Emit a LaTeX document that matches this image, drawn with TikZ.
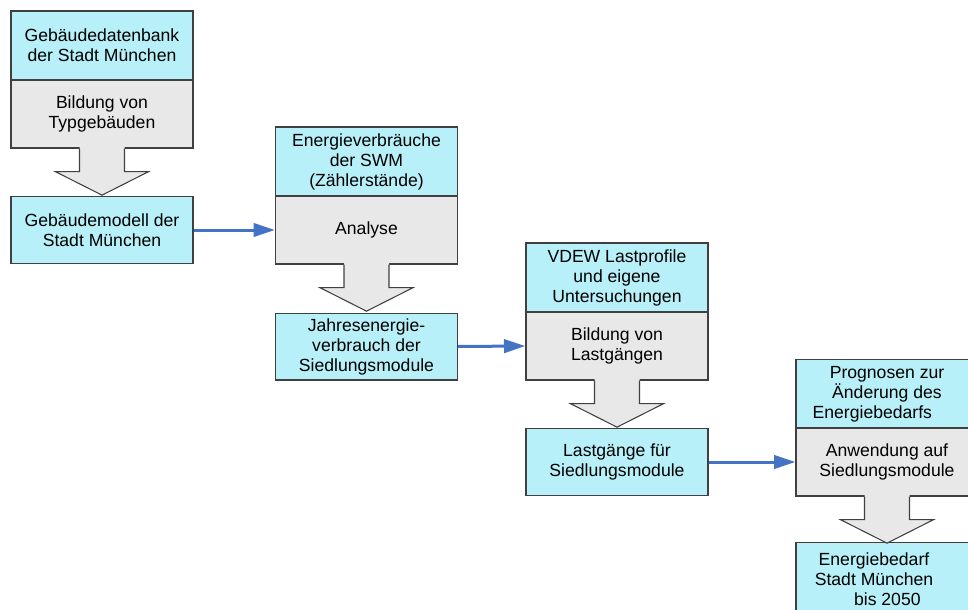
\documentclass[tikz,border=0pt]{standalone}
\usepackage{fontspec}
\setmainfont{Liberation Sans}
\usetikzlibrary{arrows.meta,calc}
\definecolor{boxcyan}{RGB}{183,240,248}
\definecolor{boxgray}{RGB}{232,232,232}
\definecolor{edgecol}{RGB}{64,64,64}
\definecolor{flowcol}{RGB}{68,114,196}
\begin{document}
\begin{tikzpicture}[x=0.75pt,y=-0.75pt,
  box/.style={draw=edgecol,line width=1pt,minimum width=136.5pt,inner sep=0pt,align=center,font=\fontsize{13.2}{15}\selectfont},
  srcbox/.style={box,fill=boxcyan,minimum height=51.75pt},
  procbox/.style={box,fill=boxgray,minimum height=51pt},
  resbox/.style={box,fill=boxcyan,minimum height=50pt},
  plain/.style={inner sep=0pt,align=center,font=\fontsize{13.2}{15}\selectfont},
  flowarrow/.style={draw=flowcol,line width=2.25pt,-{Triangle[length=16pt,width=10pt]}},
  blockedge/.style={draw=edgecol,line width=0.8pt}]
\path[use as bounding box] (0,0) rectangle (968,610);
\clip (0,0) rectangle (968,610);
% column 1
\node[srcbox]  (s1) at (102,45.5) {Gebäudedatenbank\\der Stadt München};
\node[procbox] (p1) at (102,114) {Bildung von\\Typgebäuden};
\node[resbox]  (r1) at (102,230) {Gebäudemodell der\\Stadt München};
% column 2
\node[srcbox]  (s2) at (366.5,161.5) {Energieverbräuche\\der SWM\\(Zählerstände)};
\node[procbox] (p2) at (366.5,230) {Analyse};
\node[resbox]  (r2) at (366.5,346.5) {Jahresenergie-\\verbrauch der\\Siedlungsmodule};
% column 3
\node[srcbox]  (s3) at (617,277.5) {VDEW Lastprofile\\und eigene\\Untersuchungen};
\node[procbox] (p3) at (617,346) {Bildung von\\Lastgängen};
\node[resbox]  (r3) at (617,462) {Lastgänge für\\Siedlungsmodule};
% column 4
\node[srcbox]  (s4) at (887,394) {Prognosen zur\\Änderung des\\Energiebedarfs\hspace*{22pt}};
\node[procbox] (p4) at (887,462) {Anwendung auf\\Siedlungsmodule};
\node[resbox,minimum height=51.75pt] (r4) at (887,577) {};
\node[plain]   (t4) at (874,579.5) {Energiebedarf\\Stadt München\\\hspace*{20pt}bis 2050};
% block arrows
\foreach \p in {p1,p2,p3,p4}{
  \fill[boxgray] ($(\p.south)+(-22.5,-1.5)$) -- ($(\p.south)+(-22.5,23)$) -- ($(\p.south)+(-46.5,23)$)
     -- ($(\p.south)+(0,46.5)$) -- ($(\p.south)+(46.5,23)$) -- ($(\p.south)+(22.5,23)$) -- ($(\p.south)+(22.5,-1.5)$) -- cycle;
  \draw[blockedge] ($(\p.south)+(-22.5,0)$) -- ($(\p.south)+(-22.5,23)$) -- ($(\p.south)+(-46.5,23)$)
     -- ($(\p.south)+(0,46.5)$) -- ($(\p.south)+(46.5,23)$) -- ($(\p.south)+(22.5,23)$) -- ($(\p.south)+(22.5,0)$);
}
% flow arrows
\draw[flowarrow] (r1.east) -- (p2.west);
\draw[flowarrow] (r2.east) -- (p3.west);
\draw[flowarrow] (r3.east) -- (p4.west);
\end{tikzpicture}
\end{document}
